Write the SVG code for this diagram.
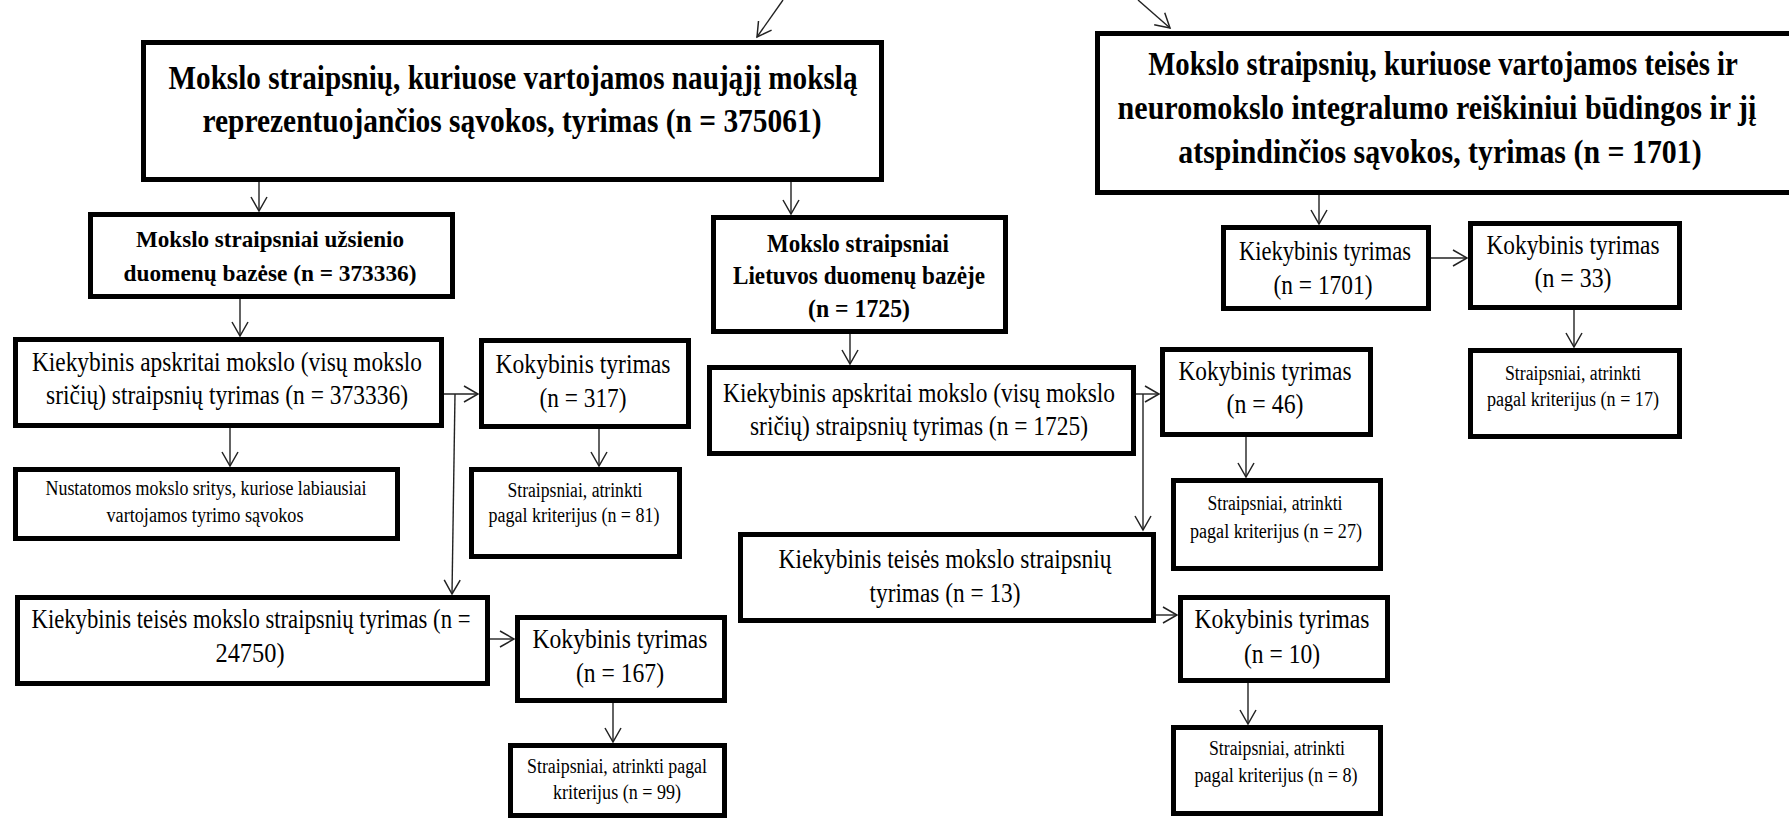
<svg xmlns="http://www.w3.org/2000/svg" width="1789" height="824" viewBox="0 0 1789 824" font-family="'Liberation Serif', 'Times New Roman', 'DejaVu Serif', serif">
<style>
  .box{fill:#fff;stroke:#000;stroke-width:5}
  text{font-family:'Liberation Serif','Times New Roman','DejaVu Serif',serif;fill:#000;text-anchor:middle}
  .t1{font-size:33px;font-weight:bold}
  .t2{font-size:24px;font-weight:bold}
  .t3{font-size:26px;font-weight:bold}
  .m{font-size:27px}
  .s{font-size:20px}
  .c{fill:none;stroke:#222;stroke-width:1.4;marker-end:url(#ah)}
</style>
<defs>
  <marker id="ah" markerUnits="userSpaceOnUse" viewBox="-16 -10 18 20" refX="0" refY="0" markerWidth="18" markerHeight="20" orient="auto" overflow="visible">
    <path d="M-14,-8 L0,0 L-14,8" fill="none" stroke="#222" stroke-width="1.5"/>
  </marker>
</defs>
<rect width="1789" height="824" fill="#fff"/>

<g id="connectors">
  <line class="c" x1="783" y1="0" x2="757" y2="37"/>
  <line class="c" x1="1138" y1="0" x2="1170" y2="28"/>
  <line class="c" x1="259" y1="182" x2="259" y2="211"/>
  <line class="c" x1="791" y1="182" x2="791" y2="214"/>
  <line class="c" x1="240" y1="299" x2="240" y2="336"/>
  <line class="c" x1="230" y1="428" x2="230" y2="466"/>
  <line class="c" x1="444" y1="394" x2="478" y2="394"/>
  <line class="c" x1="455" y1="394" x2="452" y2="594"/>
  <line class="c" x1="599" y1="429" x2="599" y2="466"/>
  <line class="c" x1="490" y1="639" x2="514" y2="639"/>
  <line class="c" x1="613" y1="703" x2="613" y2="742"/>
  <line class="c" x1="850" y1="334" x2="850" y2="364"/>
  <line class="c" x1="1136" y1="394" x2="1159" y2="394"/>
  <line class="c" x1="1143" y1="394" x2="1143" y2="530"/>
  <line class="c" x1="1156" y1="615" x2="1177" y2="615"/>
  <line class="c" x1="1246" y1="437" x2="1246" y2="477"/>
  <line class="c" x1="1248" y1="683" x2="1248" y2="724"/>
  <line class="c" x1="1319" y1="195" x2="1319" y2="224"/>
  <line class="c" x1="1431" y1="258" x2="1467" y2="258"/>
  <line class="c" x1="1574" y1="310" x2="1574" y2="347"/>
</g>

<g id="n-top-left">
  <rect class="box" x="143.5" y="42.5" width="738" height="137"/>
  <text class="t1" x="513" y="89" textLength="689" lengthAdjust="spacingAndGlyphs">Mokslo straipsnių, kuriuose vartojamos naująjį mokslą</text>
  <text class="t1" x="512" y="132" textLength="619" lengthAdjust="spacingAndGlyphs">reprezentuojančios sąvokos, tyrimas (n = 375061)</text>
</g>

<g id="n-top-right">
  <path class="box" d="M1789,33.5 H1097.5 V192.5 H1789"/>
  <text class="t1" transform="translate(1443,75) scale(0.78,1)" x="0" y="0" textLength="756" lengthAdjust="spacingAndGlyphs">Mokslo straipsnių, kuriuose vartojamos teisės ir</text>
  <text class="t1" transform="translate(1437,119) scale(0.78,1)" x="0" y="0" textLength="819" lengthAdjust="spacingAndGlyphs">neuromokslo integralumo reiškiniui būdingos ir jį</text>
  <text class="t1" transform="translate(1440,163) scale(0.78,1)" x="0" y="0" textLength="671" lengthAdjust="spacingAndGlyphs">atspindinčios sąvokos, tyrimas (n = 1701)</text>
</g>

<g id="n-uzsienio">
  <rect class="box" x="90.5" y="214.5" width="362" height="82"/>
  <text class="t2" x="270" y="247" textLength="268" lengthAdjust="spacingAndGlyphs">Mokslo straipsniai užsienio</text>
  <text class="t2" x="270" y="281" textLength="293" lengthAdjust="spacingAndGlyphs">duomenų bazėse (n = 373336)</text>
</g>

<g id="n-kiek-373336">
  <rect class="box" x="15.5" y="339.5" width="426" height="86"/>
  <text class="m" x="227" y="371" textLength="390" lengthAdjust="spacingAndGlyphs">Kiekybinis apskritai mokslo (visų mokslo</text>
  <text class="m" x="227" y="404" textLength="362" lengthAdjust="spacingAndGlyphs">sričių) straipsnių tyrimas (n = 373336)</text>
</g>

<g id="n-kok-317">
  <rect class="box" x="481.5" y="340.5" width="207" height="86"/>
  <text class="m" x="583" y="373" textLength="175" lengthAdjust="spacingAndGlyphs">Kokybinis tyrimas</text>
  <text class="m" x="583" y="407" textLength="87" lengthAdjust="spacingAndGlyphs">(n = 317)</text>
</g>

<g id="n-nustatomos">
  <rect class="box" x="15.5" y="469.5" width="382" height="69"/>
  <text class="s" x="206" y="495" textLength="321" lengthAdjust="spacingAndGlyphs">Nustatomos mokslo sritys, kuriose labiausiai</text>
  <text class="s" x="205" y="522" textLength="197" lengthAdjust="spacingAndGlyphs">vartojamos tyrimo sąvokos</text>
</g>

<g id="n-str-81">
  <rect class="box" x="471.5" y="469.5" width="208" height="87"/>
  <text class="s" x="575" y="497" textLength="135" lengthAdjust="spacingAndGlyphs">Straipsniai, atrinkti</text>
  <text class="s" x="574" y="522" textLength="171" lengthAdjust="spacingAndGlyphs">pagal kriterijus (n = 81)</text>
</g>

<g id="n-kiek-24750">
  <rect class="box" x="17.5" y="597.5" width="470" height="86"/>
  <text class="m" x="251" y="628" textLength="439" lengthAdjust="spacingAndGlyphs">Kiekybinis teisės mokslo straipsnių tyrimas (n =</text>
  <text class="m" x="250" y="662" textLength="69" lengthAdjust="spacingAndGlyphs">24750)</text>
</g>

<g id="n-kok-167">
  <rect class="box" x="517.5" y="617.5" width="207" height="83"/>
  <text class="m" x="620" y="648" textLength="175" lengthAdjust="spacingAndGlyphs">Kokybinis tyrimas</text>
  <text class="m" x="620" y="682" textLength="88" lengthAdjust="spacingAndGlyphs">(n = 167)</text>
</g>

<g id="n-str-99">
  <rect class="box" x="510.5" y="745.5" width="214" height="70"/>
  <text class="s" x="617" y="773" textLength="180" lengthAdjust="spacingAndGlyphs">Straipsniai, atrinkti pagal</text>
  <text class="s" x="617" y="799" textLength="128" lengthAdjust="spacingAndGlyphs">kriterijus (n = 99)</text>
</g>

<g id="n-lietuvos">
  <rect class="box" x="713.5" y="217.5" width="292" height="114"/>
  <text class="t3" x="858" y="252" textLength="182" lengthAdjust="spacingAndGlyphs">Mokslo straipsniai</text>
  <text class="t3" x="859" y="284" textLength="252" lengthAdjust="spacingAndGlyphs">Lietuvos duomenų bazėje</text>
  <text class="t3" x="859" y="317" textLength="102" lengthAdjust="spacingAndGlyphs">(n = 1725)</text>
</g>

<g id="n-kiek-1725">
  <rect class="box" x="709.5" y="367.5" width="424" height="86"/>
  <text class="m" x="919" y="402" textLength="392" lengthAdjust="spacingAndGlyphs">Kiekybinis apskritai mokslo (visų mokslo</text>
  <text class="m" x="919" y="435" textLength="338" lengthAdjust="spacingAndGlyphs">sričių) straipsnių tyrimas (n = 1725)</text>
</g>

<g id="n-kok-46">
  <rect class="box" x="1162.5" y="349.5" width="208" height="85"/>
  <text class="m" x="1265" y="380" textLength="173" lengthAdjust="spacingAndGlyphs">Kokybinis tyrimas</text>
  <text class="m" x="1265" y="413" textLength="77" lengthAdjust="spacingAndGlyphs">(n = 46)</text>
</g>

<g id="n-str-27">
  <rect class="box" x="1173.5" y="480.5" width="207" height="88"/>
  <text class="s" x="1275" y="510" textLength="135" lengthAdjust="spacingAndGlyphs">Straipsniai, atrinkti</text>
  <text class="s" x="1276" y="538" textLength="172" lengthAdjust="spacingAndGlyphs">pagal kriterijus (n = 27)</text>
</g>

<g id="n-kiek-13">
  <rect class="box" x="740.5" y="534.5" width="413" height="86"/>
  <text class="m" x="945" y="568" textLength="333" lengthAdjust="spacingAndGlyphs">Kiekybinis teisės mokslo straipsnių</text>
  <text class="m" x="945" y="602" textLength="151" lengthAdjust="spacingAndGlyphs">tyrimas (n = 13)</text>
</g>

<g id="n-kok-10">
  <rect class="box" x="1180.5" y="597.5" width="207" height="83"/>
  <text class="m" x="1282" y="628" textLength="175" lengthAdjust="spacingAndGlyphs">Kokybinis tyrimas</text>
  <text class="m" x="1282" y="663" textLength="76" lengthAdjust="spacingAndGlyphs">(n = 10)</text>
</g>

<g id="n-str-8">
  <rect class="box" x="1173.5" y="727.5" width="207" height="86"/>
  <text class="s" x="1277" y="755" textLength="136" lengthAdjust="spacingAndGlyphs">Straipsniai, atrinkti</text>
  <text class="s" x="1276" y="782" textLength="163" lengthAdjust="spacingAndGlyphs">pagal kriterijus (n = 8)</text>
</g>

<g id="n-kiek-1701">
  <rect class="box" x="1223.5" y="227.5" width="205" height="81"/>
  <text class="m" x="1325" y="260" textLength="172" lengthAdjust="spacingAndGlyphs">Kiekybinis tyrimas</text>
  <text class="m" x="1323" y="294" textLength="99" lengthAdjust="spacingAndGlyphs">(n = 1701)</text>
</g>

<g id="n-kok-33">
  <rect class="box" x="1470.5" y="223.5" width="209" height="84"/>
  <text class="m" x="1573" y="254" textLength="173" lengthAdjust="spacingAndGlyphs">Kokybinis tyrimas</text>
  <text class="m" x="1573" y="287" textLength="77" lengthAdjust="spacingAndGlyphs">(n = 33)</text>
</g>

<g id="n-str-17">
  <rect class="box" x="1470.5" y="350.5" width="209" height="86"/>
  <text class="s" x="1573" y="380" textLength="136" lengthAdjust="spacingAndGlyphs">Straipsniai, atrinkti</text>
  <text class="s" x="1573" y="406" textLength="172" lengthAdjust="spacingAndGlyphs">pagal kriterijus (n = 17)</text>
</g>
</svg>
